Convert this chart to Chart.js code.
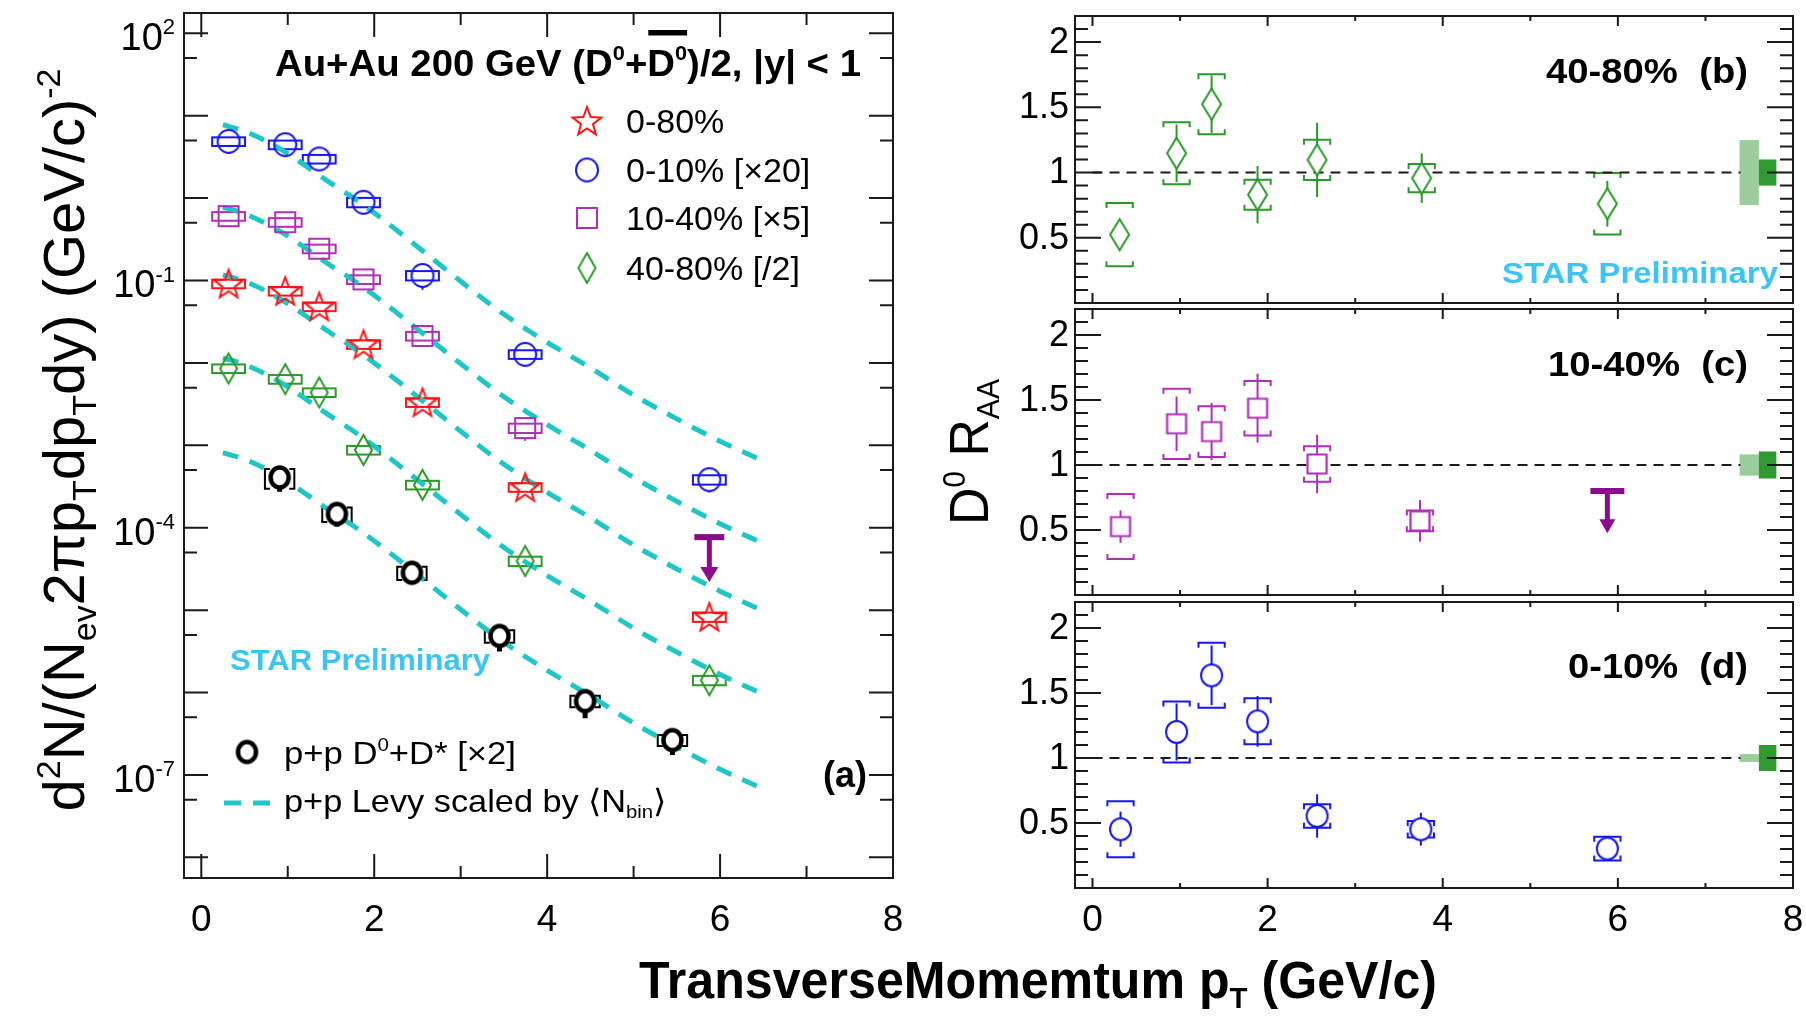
<!DOCTYPE html>
<html>
<head>
<meta charset="utf-8">
<title>D0 spectra and RAA, Au+Au 200 GeV</title>
<script src="https://cdn.jsdelivr.net/npm/chart.js@4.4.1/dist/chart.umd.min.js"></script>
<style>
  html, body { margin: 0; background: #fff; }
  #fig { position: relative; width: 1806px; height: 1023px; }
  #fig canvas { position: absolute; left: 0; top: 0; }
</style>
</head>
<body>
<div id="fig">
  <canvas id="spectra" width="1806" height="1023"></canvas>
  <canvas id="raa4080" width="1806" height="1023"></canvas>
  <canvas id="raa1040" width="1806" height="1023"></canvas>
  <canvas id="raa010" width="1806" height="1023"></canvas>
</div>
<script>
// ---- panel (a): invariant yields, (D0+D0bar)/2, |y|<1 ----
const ptAuAu = [0.316, 0.971, 1.364, 1.876, 2.558, 3.746, 5.876];
const yield080 = [0.0914, 0.0745, 0.0482, 0.0168, 3.32e-3, 3.10e-4, 8.28e-6];
const yield010 = [4.87, 4.45, 2.98, 0.889, 0.115, 0.0127, 3.83e-4];          // x20
const yield1040 = [0.603, 0.509, 0.243, 0.103, 0.0212, 1.62e-3];              // x5
const yield4080 = [8.55e-3, 6.35e-3, 4.38e-3, 8.77e-4, 3.31e-4, 3.94e-5, 1.41e-6]; // /2
// relative uncertainties
const stat080 = [0.10, 0.10, 0.10, 0.15, 0.30, 0.30, 0.30];
const sys080 = [0.12, 0.12, 0.12, 0.12, 0.12, 0.12, 0.13];
const stat010 = [0.08, 0.08, 0.08, 0.10, 0.33, 0.25, 0.30];
const sys010 = [0.12, 0.12, 0.12, 0.13, 0.13, 0.12, 0.13];
const stat1040 = [0.06, 0.06, 0.10, 0.15, 0.25, 0.30];
const sys1040 = [0.12, 0.12, 0.12, 0.12, 0.12, 0.13];
const stat4080 = [0.10, 0.10, 0.10, 0.20, 0.30, 0.30, 0.30];
const sys4080 = [0.12, 0.12, 0.12, 0.12, 0.12, 0.13, 0.13];
// 10-40% highest bin is an upper limit
const limitPt1040 = [5.876];
const limitTop1040 = [7.69e-5];
const limitTip1040 = [2.19e-5];

// p+p D0+D* (x2)
const ptPP = [0.906, 1.569, 2.436, 3.449, 4.439, 5.449];
const yieldPP = [4.07e-4, 1.47e-4, 2.84e-5, 4.86e-6, 7.87e-7, 2.65e-7];
const statPP = [0.33, 0.30, 0.27, 0.35, 0.38, 0.34];
const sysPP = [0.27, 0.20, 0.18, 0.17, 0.16, 0.15];

// p+p Levy fit scaled by <Nbin>
const levyPt = [0.25, 0.5, 0.75, 1.0, 1.25, 1.5, 1.75, 2.0, 2.5, 3.0, 3.5, 4.0, 4.5, 5.0, 5.5, 6.0, 6.5];
const levy010 = [7.76, 6.46, 4.90, 3.47, 2.29, 1.51, 1.02, 0.661, 0.257, 0.0977, 0.0389, 0.0178, 8.71e-3, 4.07e-3, 2.09e-3, 1.12e-3, 6.46e-4];
const levy1040 = [0.776, 0.646, 0.490, 0.347, 0.229, 0.151, 0.102, 0.0661, 0.0257, 9.77e-3, 3.89e-3, 1.78e-3, 8.71e-4, 4.07e-4, 2.09e-4, 1.12e-4, 6.46e-5];
const levy080 = [0.117, 0.0977, 0.0741, 0.0525, 0.0347, 0.0229, 0.0155, 0.0100, 3.89e-3, 1.48e-3, 5.89e-4, 2.69e-4, 1.32e-4, 6.17e-5, 3.16e-5, 1.70e-5, 9.77e-6];
const levy4080 = [0.0115, 9.55e-3, 7.24e-3, 5.13e-3, 3.39e-3, 2.24e-3, 1.51e-3, 9.77e-4, 3.80e-4, 1.45e-4, 5.75e-5, 2.63e-5, 1.29e-5, 6.03e-6, 3.09e-6, 1.66e-6, 9.55e-7];
const levyPP = [8.13e-4, 6.76e-4, 5.13e-4, 3.63e-4, 2.40e-4, 1.58e-4, 1.07e-4, 6.92e-5, 2.69e-5, 1.02e-5, 4.07e-6, 1.86e-6, 9.12e-7, 4.27e-7, 2.19e-7, 1.17e-7, 6.76e-8];

// ---- panels (b)-(d): D0 RAA ----
const ptB = [0.31, 0.96, 1.36, 1.885, 2.565, 3.76, 5.88];
const raaB = [0.524, 1.148, 1.524, 0.83, 1.097, 0.957, 0.761];
const statB = [0.10, 0.22, 0.22, 0.22, 0.285, 0.19, 0.175];
const sysB = [0.242, 0.237, 0.23, 0.115, 0.155, 0.109, 0.236];

const ptC = [0.32, 0.96, 1.36, 1.885, 2.565, 3.74];
const raaC = [0.526, 1.317, 1.257, 1.437, 1.008, 0.57];
const statC = [0.125, 0.21, 0.22, 0.265, 0.225, 0.16];
const sysC = [0.25, 0.27, 0.195, 0.21, 0.137, 0.08];
const limitPtC = [5.88];
const limitTopC = [0.80];
const limitTipC = [0.475];

const ptD = [0.32, 0.96, 1.36, 1.885, 2.565, 3.75, 5.88];
const raaD = [0.452, 1.2, 1.636, 1.282, 0.554, 0.452, 0.303];
const statD = [0.135, 0.22, 0.23, 0.195, 0.167, 0.126, 0.06];
const sysD = [0.215, 0.235, 0.25, 0.177, 0.091, 0.064, 0.092];

// normalisation uncertainties (b, c, d): light = Nbin, dark = p+p
const normLight = [0.249, 0.082, 0.03];
const normDark = [0.10, 0.104, 0.10];

const RED = '#ff1212', BLUE = '#1616f2', MAG = '#b02fb9', GREEN = '#2a992a';
const CYAN = '#1fc6c6', PURPLE = '#8c0a8c', SKY = '#3cc4f4';
const LGREEN = '#9ccc9c', DGREEN = '#2f9a2f';
const FAM = '"Liberation Sans", Arial, Helvetica, sans-serif';
const W = 1806, H = 1023;

function marker(shape, color, rx, ry, lw, fill) {
  const c = document.createElement('canvas');
  c.width = Math.ceil(rx * 2 + lw + 4);
  c.height = Math.ceil(ry * 2 + lw + 4);
  const g = c.getContext('2d');
  g.translate(c.width / 2, c.height / 2);
  g.lineWidth = lw;
  g.strokeStyle = color;
  g.fillStyle = '#fff';
  g.lineJoin = 'miter';
  g.beginPath();
  if (shape === 'circle') {
    g.ellipse(0, 0, rx, ry, 0, 0, Math.PI * 2);
  } else if (shape === 'square') {
    g.rect(-rx, -ry, rx * 2, ry * 2);
  } else if (shape === 'diamond') {
    g.moveTo(0, -ry); g.lineTo(rx, 0); g.lineTo(0, ry); g.lineTo(-rx, 0); g.closePath();
  } else if (shape === 'star') {
    for (let i = 0; i < 10; i++) {
      const r = i % 2 ? rx * 0.42 : rx;
      const a = -Math.PI / 2 + i * Math.PI / 5;
      g.lineTo(r * Math.cos(a), r * Math.sin(a) + ry * 0.08);
    }
    g.closePath();
  }
  if (fill) g.fill();
  g.stroke();
  return c;
}

const mkStar = marker('star', RED, 15, 15, 2, false);
const mkCircB = marker('circle', BLUE, 11, 11.5, 2, false);
const mkSqM = marker('square', MAG, 10, 10, 2, false);
const mkDiaG = marker('diamond', GREEN, 8.5, 15, 2, false);
const mkPP = marker('circle', '#000', 9, 10, 4.5, true);
const mkDiaR = marker('diamond', GREEN, 9.5, 15.5, 2, true);
const mkSqR = marker('square', MAG, 9.5, 9.5, 2.2, true);
const mkCircR = marker('circle', BLUE, 10.5, 11, 2, true);

// text with super/subscripts; optional width squeezes it along the writing direction
function rich(ctx, parts, x, y, o) {
  const small = Math.round(o.size * 0.58);
  const fontOf = k => (o.bold ? 'bold ' : '') + (k === 'n' ? o.size : small) + 'px ' + FAM;
  const shift = k => k === 'sup' ? -o.size * 0.42 : (k === 'sub' ? o.size * 0.2 : 0);
  const widths = parts.map(([t, k]) => { ctx.font = fontOf(k); return ctx.measureText(t).width; });
  const total = widths.reduce((s, v) => s + v, 0);
  const k = o.width ? o.width / total : 1;
  let pos = o.align === 'center' ? -total / 2 : (o.align === 'right' ? -total : 0);
  const spans = [];
  ctx.save();
  ctx.translate(x, y);
  if (o.rotate) ctx.rotate(o.rotate);
  ctx.scale(k, 1);
  ctx.fillStyle = o.color || '#000';
  ctx.textAlign = 'left';
  ctx.textBaseline = 'alphabetic';
  parts.forEach(([t, kind], i) => {
    ctx.font = fontOf(kind);
    ctx.fillText(t, pos, shift(kind));
    spans.push([x + pos * k, x + (pos + widths[i]) * k]);
    pos += widths[i];
  });
  ctx.restore();
  return spans;
}

function padFor(f) {
  return { left: f.l, top: f.t, right: W - f.r, bottom: H - f.b };
}

function statBar(ctx, x, yc, yHi, yLo, hh) {
  ctx.beginPath();
  if (yHi < yc - hh) { ctx.moveTo(x, yHi); ctx.lineTo(x, yc - hh); }
  if (yLo > yc + hh) { ctx.moveTo(x, yc + hh); ctx.lineTo(x, yLo); }
  ctx.stroke();
}

function brackets(ctx, x0, x1, yt, yb, stub) {
  ctx.beginPath();
  ctx.moveTo(x0 + stub, yt); ctx.lineTo(x0, yt); ctx.lineTo(x0, yb); ctx.lineTo(x0 + stub, yb);
  ctx.moveTo(x1 - stub, yt); ctx.lineTo(x1, yt); ctx.lineTo(x1, yb); ctx.lineTo(x1 - stub, yb);
  ctx.stroke();
}

function caps(ctx, x0, x1, yt, yb, stub) {
  ctx.beginPath();
  ctx.moveTo(x0, yt + stub); ctx.lineTo(x0, yt); ctx.lineTo(x1, yt); ctx.lineTo(x1, yt + stub);
  ctx.moveTo(x0, yb - stub); ctx.lineTo(x0, yb); ctx.lineTo(x1, yb); ctx.lineTo(x1, yb - stub);
  ctx.stroke();
}

function limitArrow(ctx, x, yTop, yTip, halfBar, headW, headH) {
  ctx.save();
  ctx.strokeStyle = PURPLE;
  ctx.fillStyle = PURPLE;
  ctx.lineWidth = 6;
  ctx.beginPath(); ctx.moveTo(x - halfBar, yTop); ctx.lineTo(x + halfBar, yTop); ctx.stroke();
  ctx.lineWidth = 5;
  ctx.beginPath(); ctx.moveTo(x, yTop); ctx.lineTo(x, yTip - headH + 2); ctx.stroke();
  ctx.beginPath();
  ctx.moveTo(x - headW / 2, yTip - headH); ctx.lineTo(x + headW / 2, yTip - headH); ctx.lineTo(x, yTip);
  ctx.closePath(); ctx.fill();
  ctx.restore();
}

function frameAndTicks(chart, xt, yt) {
  const ctx = chart.ctx, a = chart.chartArea, sx = chart.scales.x, sy = chart.scales.y;
  ctx.save();
  ctx.strokeStyle = '#1a1a1a';
  ctx.lineWidth = 2;
  ctx.beginPath();
  xt.forEach(([v, len]) => {
    const p = sx.getPixelForValue(v);
    ctx.moveTo(p, a.bottom); ctx.lineTo(p, a.bottom - len);
    ctx.moveTo(p, a.top); ctx.lineTo(p, a.top + len);
  });
  yt.forEach(([v, len]) => {
    const p = sy.getPixelForValue(v);
    ctx.moveTo(a.left, p); ctx.lineTo(a.left + len, p);
    ctx.moveTo(a.right, p); ctx.lineTo(a.right - len, p);
  });
  ctx.stroke();
  ctx.strokeRect(a.left, a.top, a.right - a.left, a.bottom - a.top);
  ctx.restore();
}

function points(xs, ys, img) {
  return { data: xs.map((x, i) => ({ x, y: ys[i] })), pointStyle: img, pointRadius: 5, showLine: false };
}

function levyCurve(ys) {
  return {
    data: levyPt.map((x, i) => ({ x, y: ys[i] })), showLine: true, pointRadius: 0,
    borderColor: CYAN, borderWidth: 5, borderDash: [16, 12], cubicInterpolationMode: 'monotone'
  };
}

const baseOptions = f => ({
  responsive: false, animation: false, devicePixelRatio: 1, events: [],
  layout: { padding: padFor(f) },
  plugins: { legend: { display: false }, tooltip: { enabled: false } }
});

// ---------------- panel (a) ----------------
const leftFrame = { l: 184, t: 13, r: 893, b: 878 };

const spectraDecor = {
  id: 'spectraDecor',
  beforeDatasetsDraw(chart) {
    const ctx = chart.ctx, sx = chart.scales.x, sy = chart.scales.y;
    ctx.save();
    ctx.lineWidth = 2;
    const sets = [
      [yield080, stat080, sys080, RED, 15],
      [yield010, stat010, sys010, BLUE, 11.5],
      [yield1040, stat1040, sys1040, MAG, 10],
      [yield4080, stat4080, sys4080, GREEN, 15]
    ];
    sets.forEach(([ys, st, sv, col, hh]) => {
      ctx.strokeStyle = col;
      ys.forEach((v, i) => {
        const x0 = sx.getPixelForValue(ptAuAu[i] - 0.19), x1 = sx.getPixelForValue(ptAuAu[i] + 0.19);
        const yTop = sy.getPixelForValue(v * (1 + sv[i])), yBot = sy.getPixelForValue(v * (1 - sv[i]));
        ctx.strokeRect(x0, yTop, x1 - x0, yBot - yTop);
        statBar(ctx, sx.getPixelForValue(ptAuAu[i]), sy.getPixelForValue(v),
          sy.getPixelForValue(v * (1 + st[i])), sy.getPixelForValue(v * (1 - st[i])), hh);
      });
    });
    ctx.strokeStyle = '#000';
    yieldPP.forEach((v, i) => {
      const x0 = sx.getPixelForValue(ptPP[i] - 0.17), x1 = sx.getPixelForValue(ptPP[i] + 0.17);
      ctx.lineWidth = 2;
      brackets(ctx, x0, x1, sy.getPixelForValue(v * (1 + sysPP[i])), sy.getPixelForValue(v * (1 - sysPP[i])), 5);
      ctx.lineWidth = 5;
      statBar(ctx, sx.getPixelForValue(ptPP[i]), sy.getPixelForValue(v),
        sy.getPixelForValue(v * (1 + statPP[i])), sy.getPixelForValue(v * (1 - statPP[i])), 10);
    });
    ctx.restore();
  },
  afterDatasetsDraw(chart) {
    const ctx = chart.ctx, sx = chart.scales.x, sy = chart.scales.y;
    limitArrow(ctx, sx.getPixelForValue(limitPt1040[0]), sy.getPixelForValue(limitTop1040[0]),
      sy.getPixelForValue(limitTip1040[0]), 15, 18, 15);

    const xt = [];
    for (let v = 0; v <= 8; v++) xt.push([v, v % 2 === 0 ? 24 : 12]);
    const yt = [];
    for (let n = -8; n <= 2; n++) yt.push([Math.pow(10, n), 24]);
    for (let n = -8; n <= 1; n++) yt.push([5 * Math.pow(10, n), 13]);
    frameAndTicks(chart, xt, yt);

    // tick labels
    ctx.save();
    ctx.fillStyle = '#000';
    ctx.font = '37px ' + FAM;
    ctx.textAlign = 'center';
    ctx.textBaseline = 'alphabetic';
    [0, 2, 4, 6, 8].forEach(v => ctx.fillText(String(v), sx.getPixelForValue(v), 931));
    ctx.restore();
    [2, -1, -4, -7].forEach(n => {
      rich(ctx, [['10', 'n'], [String(n), 'sup']], 175, sy.getPixelForValue(Math.pow(10, n)) + 17,
        { size: 38, align: 'right' });
    });

    // title
    const sp = rich(ctx, [['Au+Au 200 GeV (D', 'n'], ['0', 'sup'], ['+', 'n'], ['D', 'n'], ['0', 'sup'], [')/2, |y| < 1', 'n']],
      275, 76, { size: 37, bold: true, width: 586 });
    ctx.fillStyle = '#000';
    ctx.fillRect(sp[3][0] + 1, 30, sp[4][1] - sp[3][0] - 1, 5.5);

    // legend
    const rows = [[mkStar, '0-80%'], [mkCircB, '0-10% [×20]'], [mkSqM, '10-40% [×5]'], [mkDiaG, '40-80% [/2]']];
    const rowY = [121, 170, 218, 268];
    rows.forEach(([img, label], i) => {
      ctx.drawImage(img, 587 - img.width / 2, rowY[i] - img.height / 2);
      rich(ctx, [[label, 'n']], 626, rowY[i] + 12, { size: 34 });
    });
    ctx.drawImage(mkPP, 247 - mkPP.width / 2, 752 - mkPP.height / 2);
    rich(ctx, [['p+p D', 'n'], ['0', 'sup'], ['+D* [×2]', 'n']], 284, 764, { size: 32, width: 232 });
    ctx.save();
    ctx.strokeStyle = CYAN;
    ctx.lineWidth = 5;
    ctx.beginPath();
    ctx.moveTo(224, 803); ctx.lineTo(241, 803);
    ctx.moveTo(253, 803); ctx.lineTo(270, 803);
    ctx.stroke();
    ctx.restore();
    rich(ctx, [['p+p Levy scaled by \u27E8N', 'n'], ['bin', 'sub'], ['\u27E9', 'n']], 284, 812, { size: 32, width: 382 });

    rich(ctx, [['STAR Preliminary', 'n']], 230, 670, { size: 30, bold: true, width: 260, color: SKY });
    rich(ctx, [['(a)', 'n']], 823, 787, { size: 36, bold: true });

    // axis titles
    rich(ctx, [['d', 'n'], ['2', 'sup'], ['N/(N', 'n'], ['ev', 'sub'], ['2\u03C0p', 'n'], ['T', 'sub'],
      ['dp', 'n'], ['T', 'sub'], ['dy) (GeV/c)', 'n'], ['-2', 'sup']],
      84, 440, { size: 58, align: 'center', rotate: -Math.PI / 2, width: 743 });
    rich(ctx, [['TransverseMomemtum p', 'n'], ['T', 'sub'], [' (GeV/c)', 'n']],
      1038, 998, { size: 51, bold: true, align: 'center', width: 798 });
    rich(ctx, [['D', 'n'], ['0', 'sup'], [' R', 'n'], ['AA', 'sub']],
      988, 452, { size: 55, align: 'center', rotate: -Math.PI / 2, width: 146 });
  }
};

new Chart(document.getElementById('spectra'), {
  type: 'scatter',
  data: {
    datasets: [
      points(ptAuAu, yield080, mkStar),
      points(ptAuAu, yield010, mkCircB),
      points(ptAuAu.slice(0, yield1040.length), yield1040, mkSqM),
      points(ptAuAu, yield4080, mkDiaG),
      points(ptPP, yieldPP, mkPP),
      levyCurve(levy010),
      levyCurve(levy1040),
      levyCurve(levy080),
      levyCurve(levy4080),
      levyCurve(levyPP)
    ]
  },
  options: Object.assign(baseOptions(leftFrame), {
    scales: {
      x: { type: 'linear', min: -0.2, max: 8, display: false },
      y: { type: 'logarithmic', min: 5.62e-9, max: 176, display: false }
    }
  }),
  plugins: [spectraDecor]
});

// ---------------- panels (b)-(d) ----------------
function raaPanel(canvasId, f, s) {
  const decor = {
    id: 'raaDecor',
    beforeDatasetsDraw(chart) {
      const ctx = chart.ctx, sx = chart.scales.x, sy = chart.scales.y;
      ctx.save();
      // normalisation boxes at RAA = 1
      ctx.fillStyle = LGREEN;
      let x0 = sx.getPixelForValue(7.39), x1 = sx.getPixelForValue(7.61);
      let y0 = sy.getPixelForValue(1 + normLight[s.norm]), y1 = sy.getPixelForValue(1 - normLight[s.norm]);
      ctx.fillRect(x0, y0, x1 - x0, y1 - y0);
      ctx.fillStyle = DGREEN;
      x0 = sx.getPixelForValue(7.61); x1 = sx.getPixelForValue(7.81);
      y0 = sy.getPixelForValue(1 + normDark[s.norm]); y1 = sy.getPixelForValue(1 - normDark[s.norm]);
      ctx.fillRect(x0, y0, x1 - x0, y1 - y0);

      ctx.strokeStyle = s.color;
      ctx.lineWidth = 2;
      s.raa.forEach((v, i) => {
        const xp = sx.getPixelForValue(s.pt[i]);
        ctx.beginPath();
        ctx.moveTo(xp, sy.getPixelForValue(v + s.stat[i]));
        ctx.lineTo(xp, sy.getPixelForValue(v - s.stat[i]));
        ctx.stroke();
        caps(ctx, sx.getPixelForValue(s.pt[i] - 0.15), sx.getPixelForValue(s.pt[i] + 0.15),
          sy.getPixelForValue(v + s.sys[i]), sy.getPixelForValue(v - s.sys[i]), 5);
      });
      ctx.restore();
    },
    afterDatasetsDraw(chart) {
      const ctx = chart.ctx, sx = chart.scales.x, sy = chart.scales.y;
      if (s.limit) {
        limitArrow(ctx, sx.getPixelForValue(s.limit[0][0]), sy.getPixelForValue(s.limit[1][0]),
          sy.getPixelForValue(s.limit[2][0]), 17, 16, 14);
      }
      const xt = [];
      for (let v = 0; v <= 8; v++) xt.push([v, v % 2 === 0 ? 10 : 5]);
      const yt = [];
      for (let i = 1; i <= 21; i++) yt.push([i / 10, i % 5 === 0 ? 26 : 13]);
      frameAndTicks(chart, xt, yt);

      ctx.save();
      ctx.fillStyle = '#000';
      ctx.font = '36px ' + FAM;
      ctx.textAlign = 'right';
      ctx.textBaseline = 'middle';
      [['0.5', 0.5], ['1', 1], ['1.5', 1.5], ['2', 2]].forEach(([t, v]) => ctx.fillText(t, 1069, sy.getPixelForValue(v) + 1));
      if (s.xLabels) {
        ctx.font = '37px ' + FAM;
        ctx.textAlign = 'center';
        ctx.textBaseline = 'alphabetic';
        [0, 2, 4, 6, 8].forEach(v => ctx.fillText(String(v), sx.getPixelForValue(v), 931));
      }
      ctx.restore();
      rich(ctx, [[s.label, 'n']], 1748, s.labelY, { size: 35, bold: true, align: 'right', width: s.labelW });
      if (s.prelim) rich(ctx, [['STAR Preliminary', 'n']], 1502, 283, { size: 30, bold: true, width: 276, color: SKY });
    }
  };
  return new Chart(document.getElementById(canvasId), {
    type: 'scatter',
    data: {
      datasets: [
        points(s.pt, s.raa, s.marker),
        { data: [{ x: 0, y: 1 }, { x: 7.4, y: 1 }], showLine: true, pointRadius: 0,
          borderColor: '#1a1a1a', borderWidth: 2, borderDash: [10, 7] }
      ]
    },
    options: Object.assign(baseOptions(f), {
      scales: {
        x: { type: 'linear', min: -0.2, max: 8, display: false },
        y: { type: 'linear', min: 0, max: 2.2, display: false }
      }
    }),
    plugins: [decor]
  });
}

raaPanel('raa4080', { l: 1075, t: 16, r: 1793, b: 303 },
  { pt: ptB, raa: raaB, stat: statB, sys: sysB, marker: mkDiaR, color: GREEN, norm: 0,
    label: '40-80%  (b)', labelY: 83, labelW: 202, prelim: true });
raaPanel('raa1040', { l: 1075, t: 309, r: 1793, b: 595 },
  { pt: ptC, raa: raaC, stat: statC, sys: sysC, marker: mkSqR, color: MAG, norm: 1,
    label: '10-40%  (c)', labelY: 376, labelW: 200, limit: [limitPtC, limitTopC, limitTipC] });
raaPanel('raa010', { l: 1075, t: 602, r: 1793, b: 888 },
  { pt: ptD, raa: raaD, stat: statD, sys: sysD, marker: mkCircR, color: BLUE, norm: 2,
    label: '0-10%  (d)', labelY: 678, labelW: 180, xLabels: true });
</script>
</body>
</html>
